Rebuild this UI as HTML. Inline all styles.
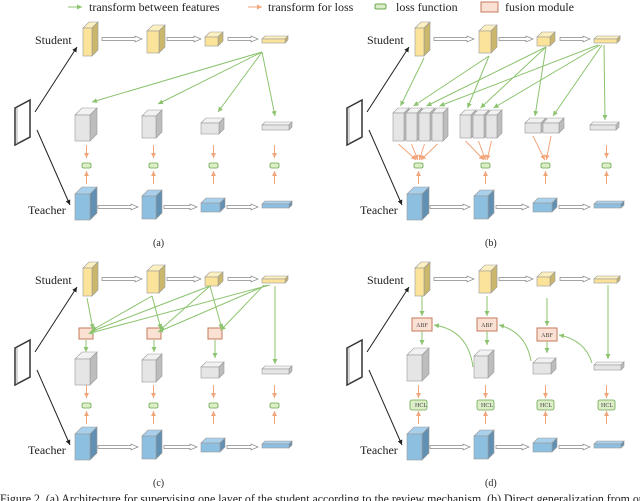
<!DOCTYPE html>
<html><head><meta charset="utf-8"><style>
html,body{margin:0;padding:0;background:#fff;}
svg{display:block;font-family:"Liberation Serif",serif;}
</style></head><body>
<svg id="s" width="640" height="501" viewBox="0 0 640 501" xmlns="http://www.w3.org/2000/svg">
<defs>
<marker id="mg" markerWidth="6" markerHeight="6" refX="5" refY="3" orient="auto" markerUnits="userSpaceOnUse"><path d="M0,0.5 L5,3 L0,5.5 z" fill="#8cc36e"/></marker>
<marker id="mo" markerWidth="6" markerHeight="6" refX="5" refY="3" orient="auto" markerUnits="userSpaceOnUse"><path d="M0,0.5 L5,3 L0,5.5 z" fill="#f2a67c"/></marker>
<marker id="mk" markerWidth="6" markerHeight="6" refX="5" refY="3" orient="auto" markerUnits="userSpaceOnUse"><path d="M0,0.5 L5,3 L0,5.5 z" fill="#222"/></marker>
</defs>
<g id="g"></g>
<g font-size="12" fill="#222">
<line x1="68" y1="7" x2="82" y2="7" stroke="#8cc36e" stroke-width="1" marker-end="url(#mg)"/>
<text x="89" y="11">transform between features</text>
<line x1="248" y1="7" x2="262" y2="7" stroke="#f2a67c" stroke-width="1" marker-end="url(#mo)"/>
<text x="268" y="11">transform for loss</text>
<rect x="375" y="4" width="11" height="5" rx="1.5" fill="#dcedc8" stroke="#6aa84f"/>
<text x="396" y="11">loss function</text>
<rect x="481" y="2" width="17" height="10" fill="#fbe1d3" stroke="#c57b5c"/>
<text x="505" y="11">fusion module</text>
<text x="153" y="246" font-size="10">(a)</text>
<text x="485" y="246" font-size="10">(b)</text>
<text x="153" y="486" font-size="10">(c)</text>
<text x="485" y="486" font-size="10">(d)</text>
<text x="0" y="503" font-size="12.5" textLength="650" lengthAdjust="spacingAndGlyphs">Figure 2. (a) Architecture for supervising one layer of the student according to the review mechanism. (b) Direct generalization from one</text>
<text x="35" y="44">Student</text><text x="28" y="214">Teacher</text>
<text x="367" y="44">Student</text><text x="360" y="214">Teacher</text>
<text x="35" y="284">Student</text><text x="28" y="454">Teacher</text>
<text x="367" y="284">Student</text><text x="360" y="454">Teacher</text>
<g font-size="6" text-anchor="middle" fill="#444">
<text x="422" y="327">ABF</text><text x="487" y="327">ABF</text><text x="547" y="337">ABF</text>
<text x="421" y="407">HCL</text><text x="487" y="407">HCL</text><text x="546" y="407">HCL</text><text x="607" y="407">HCL</text>
</g>
</g>
</svg>
<script>
var G=document.getElementById('g'),out='';
function L(x1,y1,x2,y2,c,m){out+='<line x1="'+x1+'" y1="'+y1+'" x2="'+x2+'" y2="'+y2+'" stroke="'+c+'" stroke-width="1" '+(m?'marker-end="url(#'+m+')"':'')+'/>';}
var CL={y:['#fbe39a','#fdf0c0','#cbb76c'],b:['#8dbfe0','#a9d0ea','#6290b2'],g:['#e5e5e5','#f2f2f2','#bdbdbd']};
function cube(x,y,w,h,d,c){var f=CL[c];
out+='<polygon points="'+x+','+(y+d)+' '+(x+d)+','+y+' '+(x+w+d)+','+y+' '+(x+w)+','+(y+d)+'" fill="'+f[1]+'" stroke="#999" stroke-width="0.6"/>';
out+='<polygon points="'+(x+w)+','+(y+d)+' '+(x+w+d)+','+y+' '+(x+w+d)+','+(y+h-d)+' '+(x+w)+','+(y+h)+'" fill="'+f[2]+'" stroke="#999" stroke-width="0.6"/>';
out+='<rect x="'+x+'" y="'+(y+d)+'" width="'+w+'" height="'+(h-d)+'" fill="'+f[0]+'" stroke="#999" stroke-width="0.6"/>';}
function harrow(x1,x2,y){out+='<path d="M'+x1+','+(y-1.5)+' L'+(x2-7)+','+(y-1.5)+' L'+(x2-7)+','+(y-3)+' L'+x2+','+y+' L'+(x2-7)+','+(y+3)+' L'+(x2-7)+','+(y+1.5)+' L'+x1+','+(y+1.5)+' z" fill="#fff" stroke="#888" stroke-width="0.7"/>';}
function loss(x,y){out+='<rect x="'+x+'" y="'+y+'" width="9" height="5" rx="1.5" fill="#dcedc8" stroke="#6aa84f" stroke-width="0.8"/>';}
function fus(x,y,w,h){out+='<rect x="'+x+'" y="'+y+'" width="'+w+'" height="'+h+'" fill="#fbe1d3" stroke="#c57b5c" stroke-width="1"/>';}
var GR='#8cc36e',OR='#f2a67c';
var S=[[83,22,9,34,6],[147,25,12,28,6],[205,32,13,14,5],[262,36,23,7,3]];
var T=[[75,187,15,33,7],[142,190,14,29,6],[201,198,19,14,5],[262,201,27,7,3]];
var Gb=[[75,108,15,33,7],[142,110,14,28,6],[201,118,18,16,5],[262,122,27,8,3]];
var LX=[82,149,209,270];
function base(dx,dy,type){
 out+='<polygon points="'+(dx+15)+','+(dy+108)+' '+(dx+30)+','+(dy+100)+' '+(dx+30)+','+(dy+137)+' '+(dx+15)+','+(dy+145)+'" fill="#fff" stroke="#333" stroke-width="1.5"/>';
 out+='<line x1="'+(dx+17)+'" y1="'+(dy+108)+'" x2="'+(dx+17)+'" y2="'+(dy+144)+'" stroke="#999" stroke-width="0.8"/>';
 L(dx+35,dy+112,dx+77,dy+47,'#222','mk');L(dx+37,dy+130,dx+70,dy+205,'#222','mk');
 S.forEach(function(s){cube(dx+s[0],dy+s[1],s[2],s[3],s[4],'y');});
 T.forEach(function(s){cube(dx+s[0],dy+s[1],s[2],s[3],s[4],'b');});
 harrow(dx+102,dx+142,dy+39);harrow(dx+167,dx+201,dy+39);harrow(dx+228,dx+258,dy+39);
 harrow(dx+98,dx+138,dy+207);harrow(dx+164,dx+197,dy+207);harrow(dx+227,dx+258,dy+207);
 for(var i=0;i<4;i++){var cx=dx+LX[i]+4.5;
  if(type!='b'||i==3) L(cx,dy+145,cx,dy+158,OR,'mo');
  L(cx,dy+184,cx,dy+171,OR,'mo');
  if(type=='d'){out+='<rect x="'+(cx-8.5)+'" y="'+(dy+160)+'" width="17" height="10" rx="2" fill="#dcedc8" stroke="#6aa84f" stroke-width="0.8"/>';}
  else loss(dx+LX[i],dy+163);
 }
}
base(0,0,'a');
Gb.forEach(function(s){cube(s[0],s[1],s[2],s[3],s[4],'g');});
[[92,102],[158,104],[218,112],[275,116]].forEach(function(t){L(262,52,t[0],t[1],GR,'mg');});
var dx=332;base(dx,0,'b');
var cols=[[393,4],[460,3],[525,2],[590,1]],tops=[];
cols.forEach(function(c,j){var n=c[1],w=(j==3?26:(j==2?16:11)),h=(j==3?8:(j==2?15:(j==1?28:33))),y=(j==3?122:(j==2?118:(j==1?110:108))),d=(j==3?3:5);
 tops[j]=[];
 for(var k=0;k<n;k++){var x=c[0]+k*(w+2);cube(x,y,w,h,d,'g');tops[j].push([x+w/2+2,y-2]);
  if(j<3){L(x+w/2,y+h+3,dx+LX[j]+4.5+(k-(n-1)/2)*1.5,160,OR,'mo');}}
});
var SB=[[424,58],[489,56],[546,47],[604,45]];
for(var j=0;j<4;j++){for(var k=0;k<4-j;k++){var s=SB[j+k];L(s[0]-(j+k==3?(3-j)*2:0),s[1],tops[j][k][0],tops[j][k][1],GR,'mg');}}
var dy=240;base(0,dy,'c');
Gb.forEach(function(s){cube(s[0],dy+s[1]+4,s[2],s[3],s[4],'g');});
var F=[[79,328],[147,328],[208,328]],SC=[[87,298],[152,296],[210,286],[270,285]];
for(var j=0;j<3;j++){fus(F[j][0],F[j][1],14,11);L(F[j][0]+7,340,F[j][0]+7,352-(j==2?-6:0),GR,'mg');
 for(var i=j;i<4;i++){L(SC[i][0]-(i==3?j*3:0),SC[i][1],F[j][0]+14-(i-j)*1.5,F[j][1]+1+(i-j)*1.5,GR,'mg');}}
L(275,286,275,364,GR,'mg');
base(dx,dy,'d');
Gb.forEach(function(s){cube(dx+s[0],dy+s[1],s[2],s[3],s[4],'g');});
var A=[[412,318],[477,318],[537,328]];
A.forEach(function(a,j){fus(a[0],a[1],20,13);L(a[0]+10,a[1]+13,a[0]+10,a[1]+27-(j==2?2:0),GR,'mg');L(a[0]+10,a[1]-22+(j==2?-8:0),a[0]+10,a[1]-2,GR,'mg');});
out+='<path d="M473,367 Q468,330 434,325" fill="none" stroke="'+GR+'" marker-end="url(#mg)"/>';
out+='<path d="M531,361 Q526,332 499,325" fill="none" stroke="'+GR+'" marker-end="url(#mg)"/>';
out+='<path d="M592,363 Q585,340 559,335" fill="none" stroke="'+GR+'" marker-end="url(#mg)"/>';
L(608,285,608,359,GR,'mg');
G.innerHTML=out;
</script>
</body></html>
